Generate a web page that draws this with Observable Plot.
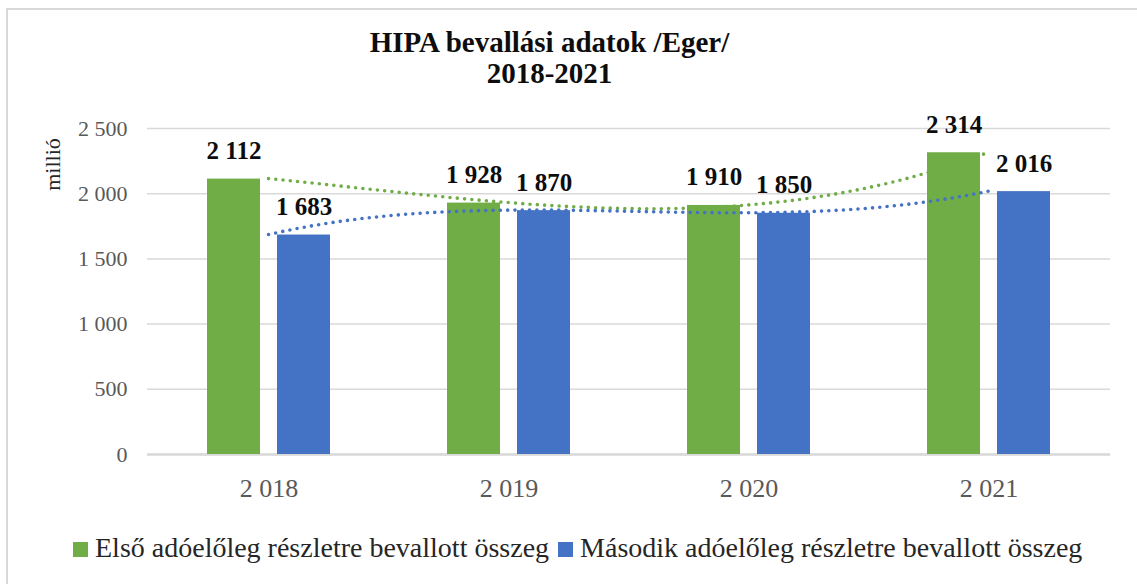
<!DOCTYPE html>
<html><head><meta charset="utf-8">
<script src="https://cdn.jsdelivr.net/npm/d3@7"></script>
<script src="https://cdn.jsdelivr.net/npm/@observablehq/plot@0.6"></script>
<style>
body{margin:0;background:#fff;}
#wrap{position:relative;width:1137px;height:584px;overflow:hidden;font-family:"Liberation Serif",serif;background:#fff;}
#frame{position:absolute;left:6px;top:8px;width:1300px;height:700px;border-left:2px solid #d9d9d9;border-top:2px solid #d9d9d9;}
#title{position:absolute;left:0;top:27px;width:1099px;text-align:center;font-weight:bold;font-size:29px;line-height:31px;color:#0d0d0d;}
#chart{position:absolute;left:0;top:105px;}
#legend{position:absolute;left:73px;top:533px;font-size:28px;line-height:30px;color:#262626;white-space:nowrap;display:flex;align-items:center;}
.sw{display:inline-block;width:15px;height:15px;margin-right:7px;margin-top:3px;}
.item{display:flex;align-items:center;margin-right:9px;}
</style></head>
<body>
<div id="wrap">
  <div id="frame"></div>
  <div id="title"></div>
  <div id="chart"></div>
  <div id="legend"></div>
</div>
<script>
const titleLines = ["HIPA bevallási adatok /Eger/", "2018-2021"];
const years = ["2018", "2019", "2020", "2021"];
const yearLabels = ["2 018", "2 019", "2 020", "2 021"];
const seriesNames = ["Első adóelőleg részletre bevallott összeg", "Második adóelőleg részletre bevallott összeg"];
const firstValues = [2112, 1928, 1910, 2314];
const secondValues = [1683, 1870, 1850, 2016];
const colors = ["#70AD47", "#4472C4"];
const yTicks = [0, 500, 1000, 1500, 2000, 2500];
const yLabel = "millió";
const trendOrder = 3;

document.getElementById("title").innerHTML = titleLines.join("<br>");
const leg = document.getElementById("legend");
seriesNames.forEach((s, i) => {
  const it = document.createElement("span"); it.className = "item";
  const sw = document.createElement("span"); sw.className = "sw"; sw.style.background = colors[i];
  const tx = document.createElement("span"); tx.textContent = s;
  it.appendChild(sw); it.appendChild(tx); leg.appendChild(it);
});

const fmt = d3.formatLocale({decimal: ",", thousands: "\u00a0", grouping: [3], currency: ["", ""]}).format(",d");

const rows = years.flatMap((yr, i) => [
  {year: yr, s: 0, v: firstValues[i]},
  {year: yr, s: 1, v: secondValues[i]}
]);

// least-squares polynomial trendline (Excel "polynomial" trendline)
function polyFit(vals, deg) {
  const xs = vals.map((_, i) => i + 1 - (vals.length + 1) / 2);
  const m = deg + 1;
  const A = d3.range(m).map(r => [
    ...d3.range(m).map(c => d3.sum(xs, x => x ** (r + c))),
    d3.sum(xs, (x, i) => x ** r * vals[i])
  ]);
  for (let c = 0; c < m; c++) {
    for (let r = c + 1; r < m; r++) {
      const f = A[r][c] / A[c][c];
      for (let k = c; k <= m; k++) A[r][k] -= f * A[c][k];
    }
  }
  const b = new Array(m).fill(0);
  for (let r = m - 1; r >= 0; r--) {
    let s = A[r][m];
    for (let k = r + 1; k < m; k++) s -= A[r][k] * b[k];
    b[r] = s / A[r][r];
  }
  const c0 = (vals.length + 1) / 2;
  return t => d3.sum(b, (bk, k) => bk * (t - c0) ** k);
}

function trend(vals, color) {
  const f = polyFit(vals, trendOrder);
  const n = vals.length;
  return (index, scales) => {
    const x = scales.x, y = scales.y;
    const bw = typeof x.bandwidth === "function" ? x.bandwidth() : 0;
    const x0 = x(years[0]) + bw / 2, x1 = x(years[n - 1]) + bw / 2;
    const pts = d3.range(0, 151).map(k => {
      const u = k / 150;
      return [x0 + (x1 - x0) * u, y(f(1 + (n - 1) * u))];
    });
    const p = document.createElementNS("http://www.w3.org/2000/svg", "path");
    p.setAttribute("d", d3.line()(pts));
    p.setAttribute("fill", "none");
    p.setAttribute("stroke", color);
    p.setAttribute("stroke-width", "3.6");
    p.setAttribute("stroke-linecap", "round");
    p.setAttribute("stroke-dasharray", "0 7.3");
    return p;
  };
}

const off = [-35, 35];
const chart = Plot.plot({
  width: 1137,
  height: 399,
  marginLeft: 147,
  marginRight: 27,
  marginTop: 23,
  marginBottom: 50,
  style: {fontFamily: "Liberation Serif, serif", background: "transparent", overflow: "visible"},
  x: {domain: years, paddingInner: 0.78, paddingOuter: 0.39},
  y: {domain: [0, 2500]},
  marks: [
    Plot.gridY(yTicks, {stroke: "#d9d9d9", strokeOpacity: 1, strokeWidth: 1.5}),
    Plot.ruleY([0], {stroke: "#d9d9d9", strokeWidth: 2.5}),
    Plot.axisY({ticks: yTicks, tickFormat: fmt, tickSize: 0, tickPadding: 20, fontSize: 22, color: "#595959", label: null}),
    Plot.axisX({tickFormat: d => yearLabels[years.indexOf(d)], tickSize: 0, tickPadding: 24, fontSize: 26, color: "#595959", label: null}),
    Plot.text([yLabel], {frameAnchor: "top-left", dx: -103, dy: 36, rotate: -90, fontSize: 22, fill: "#262626", textAnchor: "middle"}),
    ...[0, 1].map(s => Plot.barY(rows.filter(d => d.s === s), {x: "year", y: "v", fill: colors[s], dx: off[s]})),
    trend(firstValues, colors[0]),
    trend(secondValues, colors[1]),
    ...[0, 1].map(s => Plot.text(rows.filter(d => d.s === s), {
      x: "year", y: "v", text: d => fmt(d.v), dx: off[s], dy: -28,
      fontWeight: "bold", fontSize: 25, fill: "#0d0d0d", lineAnchor: "middle"
    }))
  ]
});
document.getElementById("chart").appendChild(chart);
</script>
</body></html>
